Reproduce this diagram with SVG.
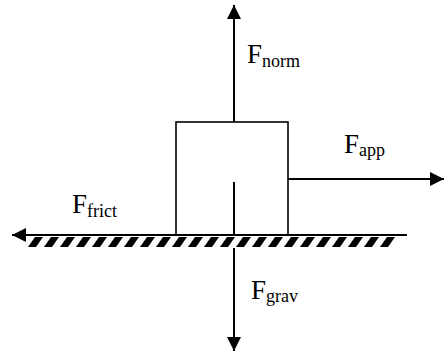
<svg xmlns="http://www.w3.org/2000/svg" width="444" height="352" viewBox="0 0 444 352">
  <style>
    .force { stroke: #000; stroke-width: 2; fill: none; marker-end: url(#head); }
    .plain { stroke: #000; stroke-width: 2; fill: none; }
    .box { stroke: #000; stroke-width: 1.6; fill: #fff; }
    .lbl { font-family: "Liberation Serif", "Times New Roman", serif; font-size: 27px; fill: #000; }
    .sub { font-size: 18px; }
  </style>
  <defs>
    <marker id="head" viewBox="0 0 14 14" refX="14" refY="7" markerWidth="14" markerHeight="14" markerUnits="userSpaceOnUse" orient="auto">
      <path d="M0,0 L14,7 L0,14 Z" fill="#000"/>
    </marker>
    <pattern id="hatch" patternUnits="userSpaceOnUse" x="28" y="237" width="16" height="10">
      <polygon points="0,10 8,10 15,0 7,0" fill="#000"/>
      <polygon points="16,10 24,10 31,0 23,0" fill="#000"/>
      <polygon points="-16,10 -8,10 -1,0 -9,0" fill="#000"/>
    </pattern>
  </defs>

  <g id="block">
    <rect class="box" x="176" y="122" width="112" height="113"/>
  </g>

  <g id="ground">
    <rect x="28" y="237" width="367" height="10" fill="url(#hatch)"/>
  </g>

  <g id="connectors">
    <line id="norm" class="force" x1="234" y1="122" x2="234" y2="5"/>
    <line id="app" class="force" x1="288" y1="179" x2="444" y2="179"/>
    <line id="frict" class="force" x1="407" y1="235" x2="12" y2="235"/>
    <line id="grav-inner" class="plain" x1="234" y1="182" x2="234" y2="236"/>
    <line id="grav" class="force" x1="234" y1="248" x2="234" y2="351"/>
  </g>

  <g id="labels">
    <text class="lbl" x="247" y="63">F<tspan class="sub" dy="4">norm</tspan></text>
    <text class="lbl" x="344" y="153">F<tspan class="sub" dy="3">app</tspan></text>
    <text class="lbl" x="72" y="213">F<tspan class="sub" dy="4">frict</tspan></text>
    <text class="lbl" x="251" y="299">F<tspan class="sub" dy="3">grav</tspan></text>
  </g>
</svg>
